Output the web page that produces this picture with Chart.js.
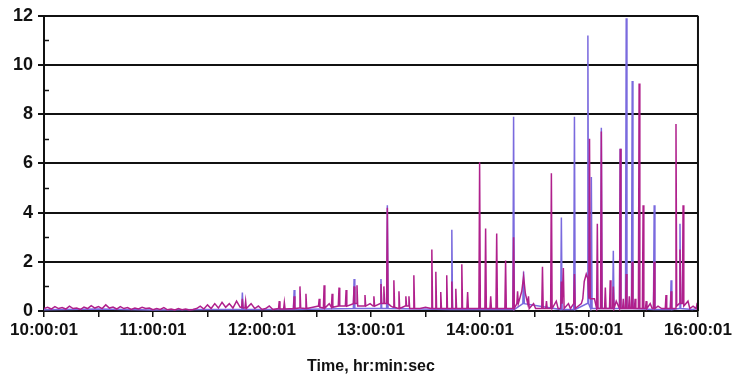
<!DOCTYPE html>
<html>
<head>
<meta charset="utf-8">
<script src="https://cdn.jsdelivr.net/npm/chart.js@4.4.1/dist/chart.umd.min.js"></script>
<style>
html,body{margin:0;padding:0;background:#fff;}
canvas{display:block;}
</style>
</head>
<body>
<canvas id="c" width="735" height="379"></canvas>
<script>
// Time axis: minutes after 10:00:01
const hourLabels = ['10:00:01','11:00:01','12:00:01','13:00:01','14:00:01','15:00:01','16:00:01'];
const axisTitle = 'Time, hr:min:sec';

// Magenta series: [minute, value]
const magentaPts = [
[0,0.1],[2,0.15],[4,0.08],[6,0.18],[8,0.1],[10,0.14],[12,0.08],[14,0.2],[16,0.1],[18,0.12],[20,0.06],[22,0.16],[24,0.1],[26,0.22],[28,0.12],[30,0.18],[32,0.1],[34,0.25],[36,0.12],[38,0.16],[40,0.08],[42,0.18],[44,0.1],[46,0.14],[48,0.06],[50,0.12],[52,0.08],[54,0.15],[56,0.1],[58,0.12],[60,0.05],[62,0.1],[64,0.06],[66,0.14],[68,0.05],[70,0.08],[72,0.04],[74,0.1],[76,0.05],[78,0.08],[80,0.04],[82,0.06],[84,0.1],[86,0.2],[88,0.08],[90,0.25],[92,0.1],[94,0.3],[96,0.12],[98,0.35],[100,0.15],[102,0.3],[104,0.12],[106,0.4],[108,0.15],
[108.8,0.15],[109.2,0.5],[109.6,0.12],[110.6,0.12],[111,0.4],[111.4,0.1],[114,0.3],[116,0.1],[118,0.2],[120,0.06],[122,0.1],[124,0.2],[126,0.06],[129.1,0.1],[129.5,0.4],[129.9,0.08],[131.9,0.08],[132.3,0.35],[132.7,0.08],[137.3,0.1],[137.7,0.6],[138.1,0.1],[140.5,0.12],[140.9,1.0],[141.3,0.12],[143.8,0.1],[144.2,0.7],[144.6,0.1],[148,0.15],[151.1,0.2],[151.5,0.5],[151.9,0.15],[153.8,0.12],[154.2,1.05],[154.6,0.12],[157,0.3],[158.2,0.15],[158.6,0.7],[159,0.15],[162,0.2],[162.4,0.95],[162.8,0.2],[165.9,0.2],[166.3,0.85],[166.7,0.2],[170.3,0.3],[170.7,1.0],[171.1,0.3],[171.9,0.3],[172.3,1.05],[172.7,0.2],[176.3,0.2],[176.7,0.65],[177.1,0.2],[179.5,0.3],[181.2,0.2],[181.6,0.6],[182,0.2],[185.1,0.3],[185.5,1.1],[185.9,0.3],[186.7,0.3],[187.1,1.0],[187.5,0.3],[188.6,0.3],[189,4.2],[189.4,0.3],[191,0.2],[192.2,0.15],[192.6,1.25],[193,0.15],[195,0.1],[195.4,0.8],[195.8,0.1],[198.8,0.2],[199.2,0.6],[199.6,0.2],[200.5,0.2],[200.9,0.6],[201.3,0.1],[203.2,0.1],[203.6,1.45],[204,0.1],[207,0.1],[210,0.15],[213.1,0.1],[213.5,2.5],[213.9,0.1],[215.3,0.1],[215.7,1.6],[216.1,0.1],[218,0.1],[218.4,0.77],[218.8,0.1],[221.3,0.1],[221.7,1.45],[222.1,0.1],[224.1,0.1],[224.5,1.2],[224.9,0.1],[226.3,0.1],[226.7,0.9],[227.1,0.1],[229.6,0.1],[230,1.9],[230.4,0.1],[232.8,0.1],[233.2,0.77],[233.6,0.1],[236,0.1],[239.4,0.1],[239.8,6.05],[240.2,0.1],[242.7,0.1],[243.1,3.35],[243.5,0.1],[245.5,0.1],[245.9,0.6],[246.3,0.1],[248.8,0.1],[249.2,3.15],[249.6,0.1],[253.7,0.1],[254.1,2.05],[254.5,0.1],[258.1,0.1],[258.5,3.0],[258.9,0.1],[260.3,0.3],[260.7,0.8],[261.1,0.3],[263,0.8],[264,1.4],[265,0.7],[266.3,0.3],[266.7,0.6],[267.1,0.1],[269.5,0.3],[270.6,0.1],[274,0.1],[274.4,1.8],[274.8,0.1],[276.2,0.1],[276.6,0.4],[277,0.1],[278.9,0.1],[279.3,5.6],[279.7,0.1],[282,0.4],[283,0.1],[284.4,0.1],[284.8,1.2],[285.2,0.3],[285.5,0.3],[285.9,1.75],[286.3,0.1],[288.7,0.3],[289.8,0.1],[291.6,0.3],[292,1.5],[292.4,0.1],[295.8,0.3],[296.6,0.5],[297.4,1.2],[298.5,1.5],[299.4,1.3],[299.9,0.5],[300.3,7.0],[300.7,0.5],[303,0.5],[304.2,0.1],[304.6,3.55],[305,0.1],[306.4,0.1],[306.8,7.3],[307.2,0.1],[308.6,0.1],[309,0.95],[309.4,0.1],[311.3,0.1],[311.7,1.25],[312.1,0.1],[313,0.1],[313.4,1.0],[313.8,0.1],[315,0.4],[316.8,0.1],[317.2,6.6],[317.6,0.1],[318.5,0.1],[318.9,0.5],[319.3,0.1],[320.1,0.1],[320.5,1.5],[320.9,0.1],[321.8,0.1],[322.2,0.6],[322.6,0.1],[323.4,0.1],[323.8,2.0],[324.2,0.1],[325,0.1],[325.4,0.5],[325.8,0.1],[327.2,0.1],[327.6,9.25],[328,0.1],[329.4,0.1],[329.8,4.3],[330.2,0.1],[331.1,0.1],[331.5,0.4],[331.9,0.1],[333.7,0.3],[334.8,0.1],[335.5,0.1],[335.9,2.0],[336.3,0.1],[338,0.2],[340,0.1],[342,0.1],[342.4,0.65],[342.8,0.1],[344.8,0.1],[345.2,0.8],[345.6,0.1],[347.5,0.1],[347.9,7.6],[348.3,0.2],[349.7,0.3],[350.1,2.5],[350.5,0.3],[351.4,0.3],[351.8,4.3],[352.2,0.2],[354.5,0.4],[355.5,0.1],[357.3,0.2],[359,0.1],[359.5,0.3],[360,2.6]
];

// Violet series: [minute, value]
const violetPts = [
[0,0.05],[30,0.08],[60,0.04],[90,0.06],[108.8,0.06],[109.2,0.75],[109.6,0.06],[137.3,0.06],[137.7,0.85],[138.1,0.06],[170.3,0.1],[170.7,1.3],[171.1,0.1],[185.1,0.1],[185.5,1.3],[185.9,0.1],[188.6,0.1],[189,4.3],[189.4,0.1],[224.1,0.06],[224.5,3.3],[224.9,0.06],[258.1,0.06],[258.5,7.9],[258.9,0.06],[263.6,0.3],[264,1.6],[264.4,0.3],[284.4,0.06],[284.8,3.8],[285.2,0.06],[291.6,0.06],[292,7.9],[292.4,0.06],[299,0.3],[299.4,11.2],[299.8,0.3],[300.9,0.1],[301.3,5.45],[301.7,0.1],[306.4,0.1],[306.8,7.45],[307.2,0.1],[313,0.1],[313.4,2.45],[313.8,0.1],[316.8,0.1],[317.2,6.6],[317.6,0.1],[320.1,0.1],[320.5,11.9],[320.9,0.1],[323.4,0.1],[323.8,9.35],[324.2,0.1],[335.5,0.06],[335.9,4.3],[336.3,0.06],[344.8,0.06],[345.2,1.25],[345.6,0.06],[349.7,0.1],[350.1,3.55],[350.5,0.1],[357,0.06],[360,0.1]
];

const toXY = pts => pts.map(p => ({x: p[0], y: p[1]}));

const extras = {
  id: 'extras',
  afterDraw(chart) {
    const {ctx, chartArea: a, scales} = chart;
    const y = scales.y;
    ctx.save();
    ctx.strokeStyle = '#111';
    ctx.lineWidth = 2;
    ctx.beginPath();
    ctx.moveTo(a.right, a.top);
    ctx.lineTo(a.right, a.bottom);
    ctx.stroke();
    ctx.lineWidth = 1.5;
    for (let v = 1; v < 12; v += 2) {
      const py = Math.round(y.getPixelForValue(v)) + 0.5;
      ctx.beginPath();
      ctx.moveTo(a.left, py);
      ctx.lineTo(a.left + 5, py);
      ctx.stroke();
    }
    ctx.restore();
  }
};

new Chart(document.getElementById('c'), {
  type: 'line',
  data: {
    datasets: [
      {label: 'A', data: toXY(magentaPts), borderColor: '#b0208c', borderWidth: 1.5, pointRadius: 0, tension: 0, order: 1},
      {label: 'B', data: toXY(violetPts), borderColor: '#7a6ade', borderWidth: 1.5, pointRadius: 0, tension: 0, order: 2}
    ]
  },
  options: {
    responsive: false,
    animation: false,
    devicePixelRatio: 1,
    layout: {padding: {top: 15, right: 34, left: 0, bottom: 0}},
    plugins: {legend: {display: false}, tooltip: {enabled: false}},
    scales: {
      x: {
        type: 'linear', min: 0, max: 360,
        afterFit: s => { s.height = 68; },
        grid: {drawOnChartArea: false, drawTicks: true, tickLength: 6, color: '#111', lineWidth: 1.5},
        border: {color: '#111', width: 2},
        ticks: {
          stepSize: 30, autoSkip: false, maxRotation: 0, minRotation: 0, padding: 3,
          color: '#111', font: {family: '"Liberation Sans", Arial, sans-serif', size: 17, weight: 'bold'},
          callback: v => (v % 60 === 0 ? hourLabels[v / 60] : '')
        },
        title: {
          display: true, text: axisTitle, color: '#111',
          font: {family: '"Liberation Sans", Arial, sans-serif', size: 16, weight: 'bold'},
          padding: {top: 0, bottom: 3}
        }
      },
      y: {
        min: 0, max: 12,
        afterFit: s => { s.width = 44; },
        grid: {color: '#111', lineWidth: 2, tickLength: 6},
        border: {color: '#111', width: 2},
        ticks: {
          stepSize: 2, padding: 5, color: '#111',
          font: {family: '"Liberation Sans", Arial, sans-serif', size: 18, weight: 'bold'}
        }
      }
    }
  },
  plugins: [extras]
});
</script>
</body>
</html>
